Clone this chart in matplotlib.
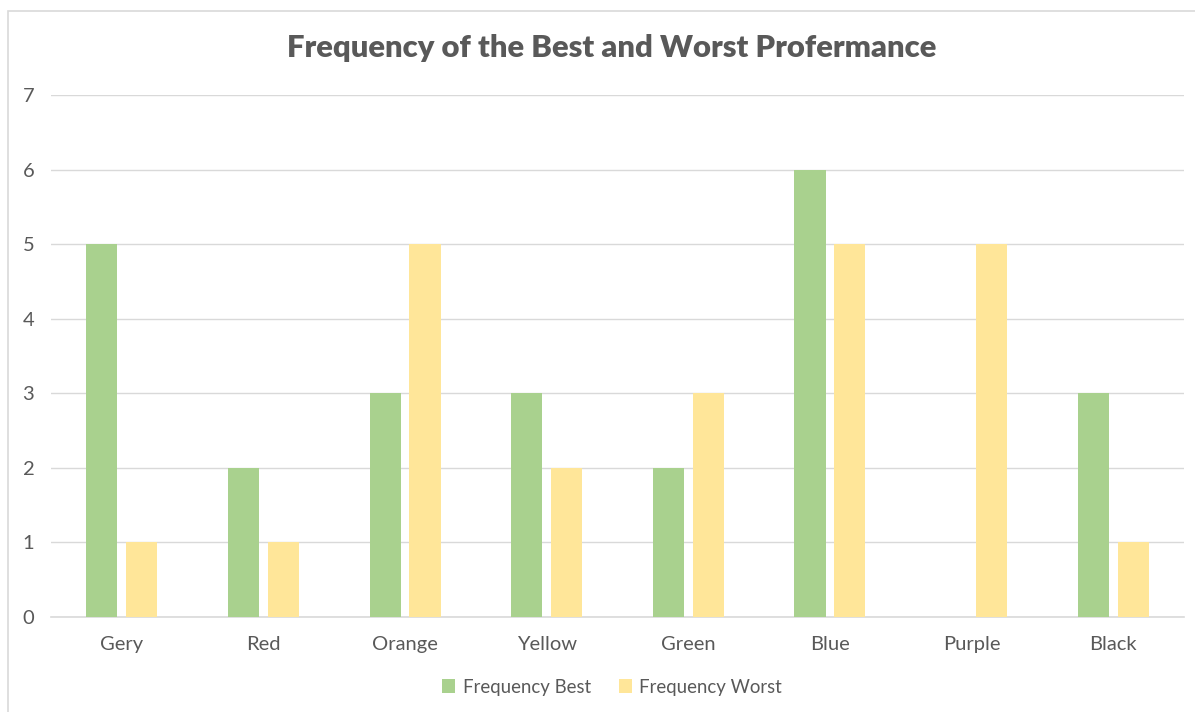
import numpy as np
import matplotlib.pyplot as plt
from matplotlib.patches import Rectangle

categories = ["Gery", "Red", "Orange", "Yellow", "Green", "Blue", "Purple", "Black"]
freq_best = [5, 2, 3, 3, 2, 6, 0, 3]
freq_worst = [1, 1, 5, 2, 3, 5, 5, 1]

green = "#A9D18E"
yellow = "#FFE699"
text_gray = "#595959"
grid_gray = "#D9D9D9"

plt.rcParams['font.family'] = ['Lato', 'DejaVu Sans']

fig = plt.figure(figsize=(11.95, 7.12), dpi=100)
# chart frame (runs off the right and bottom edges)
fig.patches.append(Rectangle((8 / 1195, -0.05), 1.2, 1 - 11 / 712 + 0.05,
                             transform=fig.transFigure, fill=False,
                             edgecolor=grid_gray, lw=1.2))

ax = fig.add_axes([51 / 1195, 1 - 617 / 712, (1184 - 51) / 1195, (617 - 95) / 712])
x = np.arange(len(categories))
w = 0.22
off = 0.141
ax.bar(x - off, freq_best, w, color=green, label="Frequency Best", zorder=3)
ax.bar(x + off, freq_worst, w, color=yellow, label="Frequency Worst", zorder=3)

ax.set_xlim(-0.5, len(categories) - 0.5)
ax.set_ylim(0, 7)
ax.set_yticks(range(8))
ax.set_xticks(x)
ax.set_xticklabels(categories)
ax.yaxis.grid(True, color=grid_gray, lw=1, zorder=0)
for s in ["top", "right", "left"]:
    ax.spines[s].set_visible(False)
ax.spines["bottom"].set_color(grid_gray)
ax.spines["bottom"].set_linewidth(1.2)
ax.tick_params(length=0, labelsize=14.5, colors=text_gray)
ax.tick_params(axis="y", pad=12)
ax.tick_params(axis="x", pad=14)

fig.text(612 / 1195, 1 - 48 / 712, "Frequency of the Best and Worst Profermance",
         ha="center", va="center", fontsize=22.3, fontweight="heavy", color=text_gray)

fig.legend(loc="center", bbox_to_anchor=(612 / 1195, 1 - 687 / 712), ncol=2,
           frameon=False, fontsize=13.4, labelcolor=text_gray, handlelength=0.7,
           handleheight=0.7, columnspacing=1.5, handletextpad=0.4)

fig.savefig("out.png", dpi=100, facecolor="white")
